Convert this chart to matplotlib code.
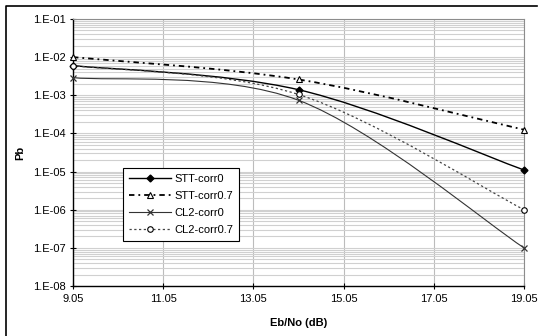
import numpy as np
import matplotlib
matplotlib.use('Agg')
import matplotlib.pyplot as plt
from matplotlib.path import Path
from matplotlib.patches import PathPatch
from matplotlib.lines import Line2D

plt.rcParams['font.family'] = ['Liberation Sans', 'DejaVu Sans']

# Eb/No (dB) at the plotted points
ebno = [9.05, 14.05, 19.05]
# bit error probability per curve
stt_corr0 = [6.0e-3, 1.4e-3, 1.1e-5]
stt_corr07 = [1.0e-2, 2.6e-3, 1.25e-4]
cl2_corr0 = [2.9e-3, 7.4e-4, 1.0e-7]
cl2_corr07 = [6.0e-3, 1.05e-3, 1.0e-6]
xticks = [9.05, 11.05, 13.05, 15.05, 17.05, 19.05]


def smooth_path(x, y):
    # excel-like smoothed line: bezier segments built in (x, log y) space
    x = np.asarray(x, float)
    ly = np.log10(y)
    n = len(x)
    verts = [(x[0], y[0])]
    codes = [Path.MOVETO]
    for i in range(n - 1):
        p0 = np.array([x[i], ly[i]])
        p3 = np.array([x[i + 1], ly[i + 1]])
        pm = np.array([x[max(i - 1, 0)], ly[max(i - 1, 0)]])
        pp = np.array([x[min(i + 2, n - 1)], ly[min(i + 2, n - 1)]])
        c1 = p0 + (p3 - pm) / 6.0
        c2 = p3 - (pp - p0) / 6.0
        for c in (c1, c2, p3):
            verts.append((c[0], 10 ** c[1]))
            codes.append(Path.CURVE4)
    return Path(verts, codes)


fig = plt.figure(figsize=(5.43, 3.36), dpi=100)
ax = fig.add_axes([73 / 543, 1 - 286 / 336, 451 / 543, 267 / 336])
ax.set_yscale('log')
ax.set_xlim(9.05, 19.05)
ax.set_ylim(1e-8, 1e-1)

series = [
    ('STT-corr0', stt_corr0, dict(color='black', lw=1.0, ls='-'),
     dict(marker='D', ms=3.5, mfc='black', mec='black')),
    ('STT-corr0.7', stt_corr07, dict(color='black', lw=1.3, ls=(0, (3, 2.2, 1, 2.2))),
     dict(marker='^', ms=5, mfc='white', mec='black', mew=0.8)),
    ('CL2-corr0', cl2_corr0, dict(color='#333333', lw=0.8, ls='-'),
     dict(marker='x', ms=4.5, mfc='none', mec='#333333', mew=0.9)),
    ('CL2-corr0.7', cl2_corr07, dict(color='#444444', lw=0.9, ls=(0, (1.8, 2))),
     dict(marker='o', ms=4, mfc='white', mec='black', mew=0.8)),
]

handles = []
for name, vals, lst, mst in series:
    patch = PathPatch(smooth_path(ebno, vals), fill=False, edgecolor=lst['color'],
                      lw=lst['lw'], ls=lst['ls'], zorder=3, clip_on=False)
    ax.add_patch(patch)
    ax.plot(ebno, vals, ls='none', zorder=4, clip_on=False, **mst)
    handles.append(Line2D([], [], color=lst['color'], lw=lst['lw'], ls=lst['ls'],
                          label=name, **mst))

ax.set_xticks(xticks)
ax.set_xticklabels(['%.2f' % t for t in xticks])
ax.set_yticks([10.0 ** k for k in range(-8, 0)])
ax.set_yticklabels(['1.E-%02d' % (-k) for k in range(-8, 0)])
ax.tick_params(axis='both', which='major', direction='inout', length=5, width=0.8,
               labelsize=8, pad=3)
ax.tick_params(axis='y', which='minor', length=0)

ax.grid(True, axis='x', which='major', color='#bcbcbc', lw=0.8)
ax.grid(True, axis='y', which='both', color='#d0d0d0', lw=0.8)
ax.set_axisbelow(True)

for s in ('left', 'bottom'):
    ax.spines[s].set_color('black')
    ax.spines[s].set_linewidth(1.0)
for s in ('top', 'right'):
    ax.spines[s].set_color('#8c8c8c')
    ax.spines[s].set_linewidth(0.8)

ax.set_xlabel('Eb/No (dB)', fontsize=8, fontweight='bold')
ax.xaxis.set_label_coords(0.5, -(323 - 286) / 267)
ax.xaxis.label.set_va('center')
ax.set_ylabel('Pb', fontsize=8, fontweight='bold')
ax.yaxis.set_label_coords(-(73 - 20) / 451, 0.5)
ax.yaxis.label.set_va('center')

leg = ax.legend(handles=handles, loc='upper left', bbox_to_anchor=((123 - 73) / 451, (286 - 168) / 267),
                borderaxespad=0, fontsize=8, handlelength=3.8, labelspacing=0.65,
                fancybox=False, framealpha=1, edgecolor='black', handletextpad=0.3,
                borderpad=0.5)
leg.get_frame().set_linewidth(0.8)
leg.set_zorder(5)

# outer chart border (left and top edges visible)
fig.add_artist(Line2D([6 / 543, 6 / 543, 537 / 543], [0, 1 - 6 / 336, 1 - 6 / 336],
                      color='black', lw=1.2, transform=fig.transFigure))

fig.savefig('out.png', dpi=100)
